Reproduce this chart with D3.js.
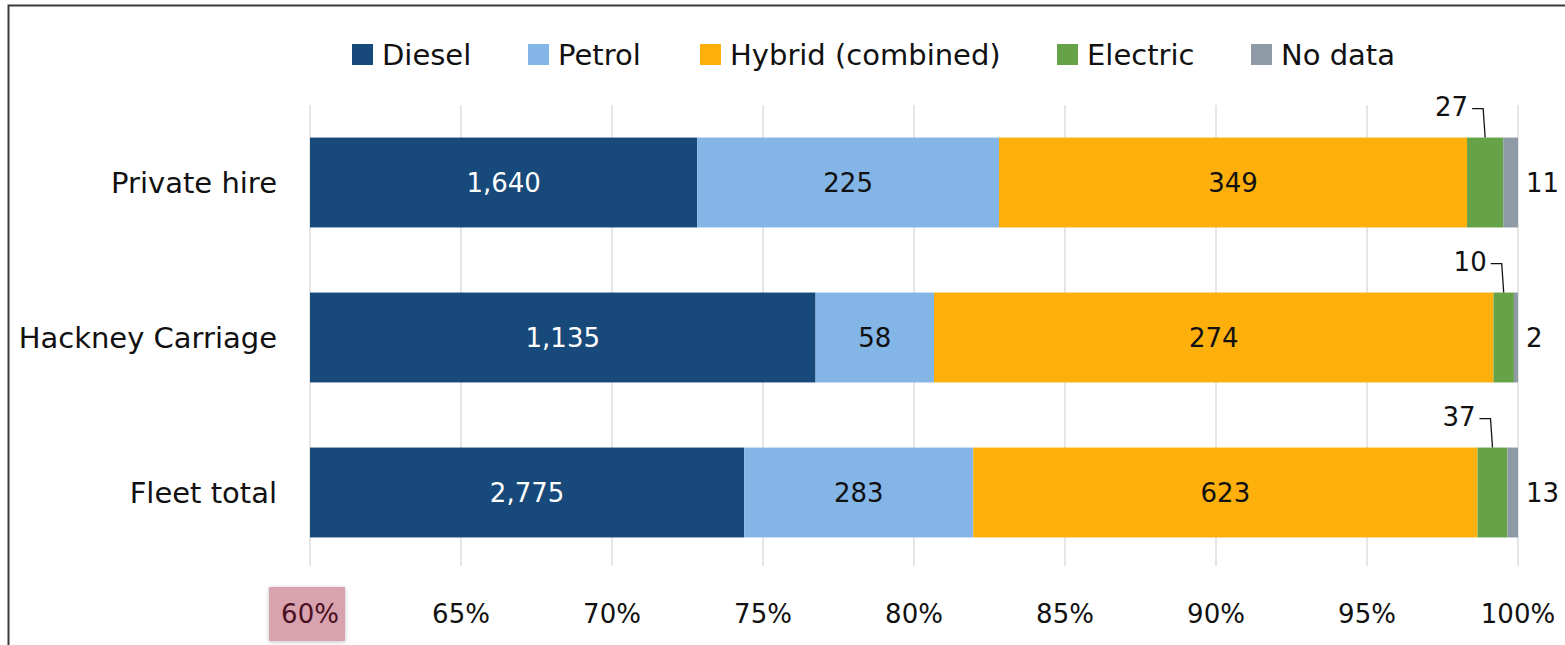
<!DOCTYPE html>
<html><head><meta charset="utf-8">
<script src="https://cdn.jsdelivr.net/npm/d3@7/dist/d3.min.js"></script>
<style>body{margin:0;background:#fff}svg{display:block;font-family:"DejaVu Sans",sans-serif}</style>
</head><body><svg id="c" width="1565" height="645"></svg>
<script>
const categories = ["Private hire", "Hackney Carriage", "Fleet total"];
const seriesNames = ["Diesel", "Petrol", "Hybrid (combined)", "Electric", "No data"];
const diesel = [1640, 1135, 2775];
const petrol = [225, 58, 283];
const hybrid = [349, 274, 623];
const electric = [27, 10, 37];
const noData = [11, 2, 13];
const tickValues = [0.60, 0.65, 0.70, 0.75, 0.80, 0.85, 0.90, 0.95, 1.00];
const colors = ["#17497a", "#83b5e7", "#fdb00c", "#66a348", "#8e9aa6"];

const svg = d3.select("#c");
const series = [diesel, petrol, hybrid, electric, noData];
const rows = categories.map((c, i) => {
  const vals = series.map(s => s[i]);
  const total = d3.sum(vals);
  let acc = 0;
  const segs = vals.map((v, k) => { const s = {k, v, x0: acc / total, x1: (acc + v) / total}; acc += v; return s; });
  return {c, segs};
});

const x = d3.scaleLinear().domain([0.6, 1]).range([310, 1518]);
const y = d3.scaleBand().domain(categories).range([105, 570]).paddingInner(0.42).paddingOuter(0.21);

// border
svg.append("path").attr("d", "M8.5,645 V5.5 H1565").attr("fill", "none").attr("stroke", "#3a3a3a").attr("stroke-width", 2);

// gridlines
svg.append("g").selectAll("line").data(tickValues).join("line")
  .attr("x1", d => x(d)).attr("x2", d => x(d)).attr("y1", 105).attr("y2", 566)
  .attr("stroke", "#d9d9d9").attr("stroke-width", 1.3);

// clip
svg.append("clipPath").attr("id", "clip").append("rect").attr("x", x(0.6)).attr("y", 0).attr("width", x(1) - x(0.6)).attr("height", 645);

const g = svg.append("g").attr("clip-path", "url(#clip)");
rows.forEach(r => {
  g.selectAll(null).data(r.segs).join("rect")
    .attr("x", d => x(d.x0)).attr("width", d => Math.max(0, x(d.x1) - x(d.x0)))
    .attr("y", y(r.c)).attr("height", y.bandwidth()).attr("fill", d => colors[d.k]);
});

const fmt = d3.format(",");
rows.forEach(r => {
  const yc = y(r.c) + y.bandwidth() / 2;
  r.segs.forEach(s => {
    const a = Math.max(x(s.x0), x(0.6)), b = x(s.x1);
    if (s.k <= 2) {
      svg.append("text").attr("x", (a + b) / 2).attr("y", yc).attr("dy", "0.36em")
        .attr("text-anchor", "middle").attr("font-size", 26)
        .attr("fill", s.k === 0 ? "#fff" : "#111").text(fmt(s.v));
    } else if (s.k === 3) {
      const cx = (a + b) / 2, top = y(r.c);
      const ly = top - 29;
      svg.append("path").attr("d", `M${cx - 13},${ly} H${cx - 2} L${cx},${top}`)
        .attr("fill", "none").attr("stroke", "#111").attr("stroke-width", 1.3);
      svg.append("text").attr("x", cx - 17).attr("y", ly).attr("dy", "0.3em")
        .attr("text-anchor", "end").attr("font-size", 26).attr("fill", "#111").text(fmt(s.v));
    } else {
      svg.append("text").attr("x", x(1) + 8).attr("y", yc).attr("dy", "0.36em")
        .attr("text-anchor", "start").attr("font-size", 26).attr("fill", "#111").text(fmt(s.v));
    }
  });
});

// category labels
svg.append("g").selectAll("text").data(categories).join("text")
  .attr("x", 277).attr("y", d => y(d) + y.bandwidth() / 2).attr("dy", "0.36em")
  .attr("text-anchor", "end").attr("font-size", 29).attr("fill", "#111").text(d => d);

// highlight box behind 60%
svg.append("rect").attr("x", 269).attr("y", 587).attr("width", 76).attr("height", 54)
  .attr("fill", "#d8a2af").style("filter", "drop-shadow(0 1px 2px rgba(0,0,0,0.25))");

// tick labels
const fmtP = d3.format(".0%");
svg.append("g").selectAll("text").data(tickValues).join("text")
  .attr("x", d => x(d)).attr("y", 614).attr("dy", "0.36em").attr("text-anchor", "middle")
  .attr("font-size", 26).attr("fill", (d, i) => i === 0 ? "#4a1020" : "#111").text(d => fmtP(d));

// legend
const legX = [352, 528, 700, 1057, 1251];
const leg = svg.append("g").selectAll("g").data(seriesNames).join("g")
  .attr("transform", (d, i) => `translate(${legX[i]},44)`);
leg.append("rect").attr("width", 21).attr("height", 21).attr("fill", (d, i) => colors[i]);
leg.append("text").attr("x", 30).attr("y", 11).attr("dy", "0.36em").attr("font-size", 29).attr("fill", "#111").text(d => d);
</script></body></html>
